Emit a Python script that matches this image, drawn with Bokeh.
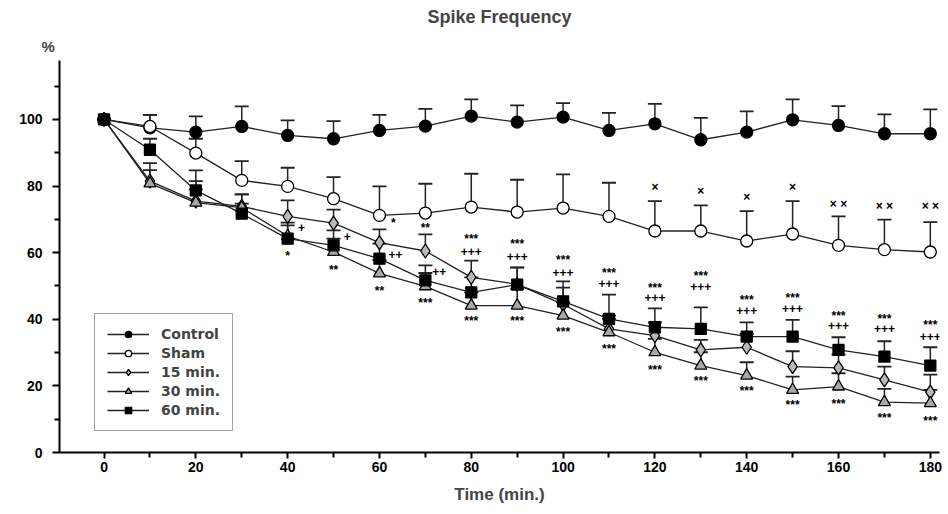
from bokeh.plotting import figure
from bokeh.models import Whisker, TeeHead, ColumnDataSource, FixedTicker, Title
from bokeh.core.properties import value
from bokeh.embed import file_html
from bokeh.resources import INLINE

time = [0, 10, 20, 30, 40, 50, 60, 70, 80, 90, 100, 110, 120, 130, 140, 150, 160, 170, 180]

control = [100, 97.5, 96.2, 97.9, 95.2, 94.2, 96.7, 98, 101, 99.2, 100.7, 96.7, 98.7, 93.9, 96.2, 99.9, 98.2, 95.7, 95.7]
control_err = [0, 3.9, 4.7, 6, 4.5, 5.3, 4.7, 5.2, 5, 5, 4.2, 5.3, 6, 6.6, 6.2, 6.1, 5.8, 5.8, 7.3]

sham = [100, 97.9, 89.9, 81.7, 79.9, 76.2, 71.2, 71.9, 73.7, 72.2, 73.4, 70.9, 66.5, 66.5, 63.5, 65.6, 62.2, 60.9, 60.2]
sham_err = [0, 3.5, 4.3, 5.8, 5.6, 6.5, 8.7, 8.8, 10, 9.7, 10.1, 10.1, 9, 7.7, 9, 9.9, 8.7, 9, 9]

m15 = [100, 81.5, 75.5, 73.9, 70.9, 68.9, 63, 60.5, 52.6, 50.5, 44.5, 37.1, 35.1, 30.8, 31.6, 25.8, 25.4, 21.8, 18.1]
m15_err = [0, 5.4, 6, 3.6, 4.8, 4, 4, 5, 5, 5, 5, 4, 4, 3, 4, 4.6, 4, 4, 5.3]

m30 = [100, 80.8, 75, 73.5, 65, 60.2, 53.8, 49.9, 44.1, 44.1, 41.1, 36.1, 30.1, 26.1, 23.1, 18.8, 19.8, 15.1, 14.8]
m30_err = [0, 4, 4, 4, 4, 4, 4, 4, 4, 5, 4, 4, 4, 4, 4, 4, 4, 4, 4]

m60 = [100, 90.9, 78.7, 71.7, 64.2, 62.2, 58.2, 51.7, 48.1, 50.4, 45.4, 40.1, 37.6, 37.1, 34.8, 34.8, 30.8, 28.8, 26.1]
m60_err = [0, 3.3, 6, 3, 4, 4.5, 4.5, 4.5, 4.5, 5.2, 6, 7.3, 5.7, 6.5, 4.3, 5, 3.8, 4.6, 5.5]

ann_x = [43, 40, 53, 50, 63, 63.5, 60, 70, 73, 70,
         80, 80, 80, 90, 90, 90, 100, 100, 100, 110, 110, 110,
         120, 120, 120, 120, 130, 130, 130, 130, 140, 140, 140, 140,
         150, 150, 150, 150, 160, 160, 160, 160, 170, 170, 170, 170,
         180, 180, 180, 180]
ann_y = [67.7, 58.9, 64.9, 54.7, 68.8, 59.5, 48.6, 67.5, 54.4, 44.8,
         64, 60.4, 39.6, 62.5, 58.9, 39.6, 57.7, 54.1, 36.3, 53.8, 50.8, 31.2,
         49.5, 46.5, 24.9, 79.6, 52.9, 49.8, 21.6, 78.4, 45.9, 42.6, 18.6, 76.6,
         46.5, 43.2, 14.4, 79.6, 41.1, 38.1, 14.7, 74.5, 40.2, 37.2, 10.5, 73.9,
         38.4, 34.8, 9.6, 73.9]
ann_text = ["+", "*", "+", "**", "*", "++", "**", "**", "++", "***",
            "***", "+++", "***", "***", "+++", "***", "***", "+++", "***", "***", "+++", "***",
            "***", "+++", "***", "×", "***", "+++", "***", "×", "***", "+++", "***", "×",
            "***", "+++", "***", "×", "***", "+++", "***", "× ×", "***", "+++", "***", "× ×",
            "***", "+++", "***", "× ×"]

x_ticks = [0, 20, 40, 60, 80, 100, 120, 140, 160, 180]
y_ticks = [0, 20, 40, 60, 80, 100]

FONT = "Liberation Sans"

p = figure(width=942, height=508, x_range=(-9.7, 182), y_range=(0, 117.7),
           output_backend="svg", toolbar_location=None,
           min_border_left=59, min_border_right=3, min_border_top=60, min_border_bottom=56)
p.title = None
p.grid.visible = False
p.outline_line_color = None
p.background_fill_color = "white"

for ax in (p.xaxis[0], p.yaxis[0]):
    ax.axis_line_width = 2
    ax.axis_line_color = "black"
    ax.major_tick_line_width = 2
    ax.minor_tick_line_width = 2
    ax.major_tick_in = 0
    ax.minor_tick_in = 0
    ax.major_label_text_font = FONT
    ax.major_label_text_font_style = "bold"
    ax.major_label_text_font_size = "14px"
    ax.major_label_text_color = "black"

p.xaxis.ticker = FixedTicker(ticks=x_ticks, minor_ticks=[t + 10 for t in x_ticks])
p.yaxis.ticker = FixedTicker(ticks=y_ticks, minor_ticks=[t + 10 for t in y_ticks])
p.xaxis.major_tick_out = 6
p.xaxis.minor_tick_out = 5
p.yaxis.major_tick_out = 7
p.yaxis.minor_tick_out = 5
p.xaxis.major_label_standoff = 3
p.yaxis.major_label_standoff = 10
p.xaxis.axis_label = "Time (min.)"
p.xaxis.axis_label_text_font = FONT
p.xaxis.axis_label_text_font_style = "bold"
p.xaxis.axis_label_text_font_size = "17px"
p.xaxis.axis_label_standoff = 10

series = [
    ("Control", control, control_err, "circle", "black", 12),
    ("Sham", sham, sham_err, "circle", "white", 12),
    ("15 min.", m15, m15_err, "diamond", "#b8b8b8", 14),
    ("30 min.", m30, m30_err, "triangle", "#a8a8a8", 12),
    ("60 min.", m60, m60_err, "square", "black", 11),
]

for name, vals, errs, mk, fc, sz in series:
    src = ColumnDataSource(data=dict(x=time, lo=vals, hi=[v + e for v, e in zip(vals, errs)]))
    w = Whisker(source=src, base="x", lower="lo", upper="hi", dimension="height",
                line_color="#222222", line_width=1.5,
                upper_head=TeeHead(size=14, line_width=1.8, line_color="#222222"),
                lower_head=None)
    p.add_layout(w)

for name, vals, errs, mk, fc, sz in series:
    p.line(time, vals, line_color="#222222", line_width=1.3, legend_label=name)
for name, vals, errs, mk, fc, sz in series:
    p.scatter(time, vals, marker=mk, size=sz, fill_color=fc, line_color="black",
              line_width=1.3, legend_label=name)

p.text(ann_x, ann_y, text=ann_text, text_font=value(FONT), text_font_style="bold",
       text_font_size="12px", text_align="center", text_baseline="middle", text_color="black")

p.legend.location = (35, 21)
p.legend.border_line_color = "#444444"
p.legend.border_line_width = 1.5
p.legend.background_fill_color = "white"
p.legend.background_fill_alpha = 1
p.legend.label_text_font = "DejaVu Sans"
p.legend.label_text_font_style = "bold"
p.legend.label_text_font_size = "14px"
p.legend.glyph_width = 42
p.legend.glyph_height = 16
p.legend.spacing = 3
p.legend.padding = 12
p.legend.margin = 0
p.legend.label_standoff = 12
p.legend.label_height = 16

p.add_layout(Title(text="%", align="left", offset=-18, standoff=12, text_font=FONT,
                   text_font_style="bold", text_font_size="15px"), "above")
p.add_layout(Title(text="Spike Frequency", align="center", offset=5, standoff=6, text_font=FONT,
                   text_font_style="bold", text_font_size="18px"), "above")

open("out.html", "w").write(file_html(p, INLINE))
